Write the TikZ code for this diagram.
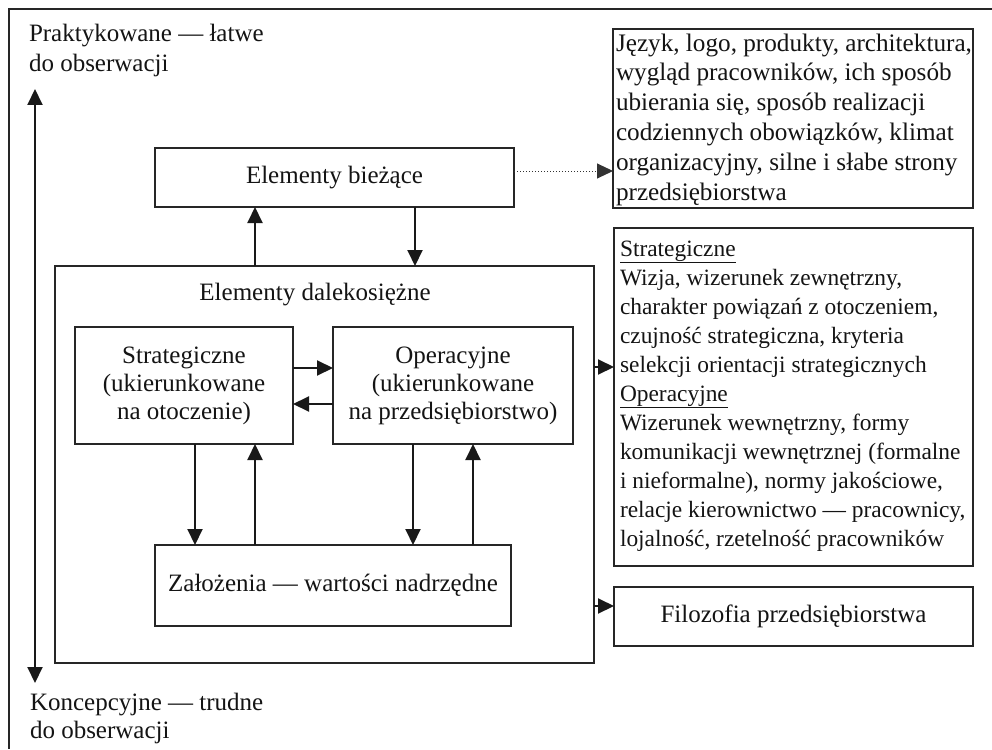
\documentclass[tikz,border=0pt]{standalone}
\usepackage{fontspec}
\setmainfont{Liberation Serif}
\usetikzlibrary{arrows.meta}
\begin{document}
\begin{tikzpicture}[x=1pt,y=-1pt,
  every node/.style={font=\fontsize{25}{29}\selectfont, text=black!92},
  frame/.style={draw=black!85, line width=1.4pt},
  box/.style={draw=black!85, line width=1.4pt, inner sep=0pt, outer sep=0pt},
  txt/.style={inner sep=0pt, outer sep=0pt, align=left},
  ctxt/.style={inner sep=0pt, outer sep=0pt, align=center},
  arr/.style={draw=black!90, line width=2pt, -{Triangle[length=16pt,width=15pt]}},
  darr/.style={draw=black!90, line width=2pt, {Triangle[length=16pt,width=15pt]}-{Triangle[length=16pt,width=15pt]}},
  dotarr/.style={draw=black!80, line width=1pt, dotted, -{Triangle[length=16pt,width=15pt]}}]
\useasboundingbox (0,0) rectangle (992,749);
\fill[white] (0,0) rectangle (992,749);

% outer frame (top and left edges)
\draw[frame] (992,9) -- (9,9) -- (9,749);

% vertical scale on the left (anchors sit on the last baseline)
\node[txt, anchor=base west, font=\fontsize{25}{30}\selectfont] (top) at (29,72)
  {Praktykowane — łatwe\\do obserwacji};
\node[txt, anchor=base west, font=\fontsize{25}{28}\selectfont] (bot) at (30,738)
  {Koncepcyjne — trudne\\do obserwacji};
\coordinate (ytop) at (35,89);
\coordinate (ybot) at (35,683);
\draw[darr] (ytop) -- (ybot);

% current elements
\node[box, minimum width=359pt, minimum height=59pt] (biez) at (334.5,177.5) {Elementy bieżące};

% long-term elements
\node[box, minimum width=539pt, minimum height=397pt] (dal) at (324.5,464.5) {};
\node[ctxt, anchor=base] (dallab) at (315,300) {Elementy dalekosiężne};

\node[box, minimum width=218pt, minimum height=117pt] (strat) at (184,385.5)
  {\begin{tabular}{@{}c@{}}Strategiczne\\[-1pt](ukierunkowane\\[-1pt]na otoczenie)\end{tabular}};
\node[box, minimum width=240pt, minimum height=117pt] (oper) at (453,385.5)
  {\begin{tabular}{@{}c@{}}Operacyjne\\[-1pt](ukierunkowane\\[-1pt]na przedsiębiorstwo)\end{tabular}};
\node[box, minimum width=356pt, minimum height=81pt] (zal) at (333,585.5)
  {Założenia — wartości nadrzędne};

% descriptions on the right
\node[box, minimum width=360pt, minimum height=179pt] (d1) at (793,118.5) {};
\node[txt, anchor=base west, font=\fontsize{25.2}{29.8}\selectfont] (d1t) at (616,200)
  {Język, logo, produkty, architektura,\\
   wygląd pracowników, ich sposób\\
   ubierania się, sposób realizacji\\
   codziennych obowiązków, klimat\\
   organizacyjny, silne i słabe strony\\
   przedsiębiorstwa};

\node[box, minimum width=359pt, minimum height=338pt] (d2) at (793.5,397) {};
\node[txt, anchor=base west, font=\fontsize{23.4}{29}\selectfont] (d2t) at (620,546)
  {\underline{Strategiczne}\\
   Wizja, wizerunek zewnętrzny,\\
   charakter powiązań z otoczeniem,\\
   czujność strategiczna, kryteria\\
   selekcji orientacji strategicznych\\
   \underline{Operacyjne}\\
   Wizerunek wewnętrzny, formy\\
   komunikacji wewnętrznej (formalne\\
   i nieformalne), normy jakościowe,\\
   relacje kierownictwo — pracownicy,\\
   lojalność, rzetelność pracowników};

\node[box, minimum width=359pt, minimum height=59pt] (filo) at (793.5,616.5)
  {Filozofia przedsiębiorstwa};

% connector positions
\coordinate (cA) at (255,0);
\coordinate (cB) at (415,0);
\coordinate (cC) at (195,0);
\coordinate (cD) at (413,0);
\coordinate (cE) at (473,0);
\coordinate (hA) at (0,368);
\coordinate (hB) at (0,404);
\coordinate (hC) at (0,171);
\coordinate (hD) at (0,367);
\coordinate (hE) at (0,606);

% between current and long-term elements
\draw[arr] (cA |- dal.north) -- (cA |- biez.south);
\draw[arr] (cB |- biez.south) -- (cB |- dal.north);

% inside long-term elements
\draw[arr] (strat.east |- hA) -- (oper.west |- hA);
\draw[arr] (oper.west |- hB) -- (strat.east |- hB);
\draw[arr] (cC |- strat.south) -- (cC |- zal.north);
\draw[arr] (cA |- zal.north) -- (cA |- strat.south);
\draw[arr] (cD |- oper.south) -- (cD |- zal.north);
\draw[arr] (cE |- zal.north) -- (cE |- oper.south);

% to the descriptions
\draw[dotarr] (biez.east |- hC) -- (d1.west |- hC);
\draw[arr] (dal.east |- hD) -- (d2.west |- hD);
\draw[arr] (dal.east |- hE) -- (filo.west |- hE);
\end{tikzpicture}
\end{document}
